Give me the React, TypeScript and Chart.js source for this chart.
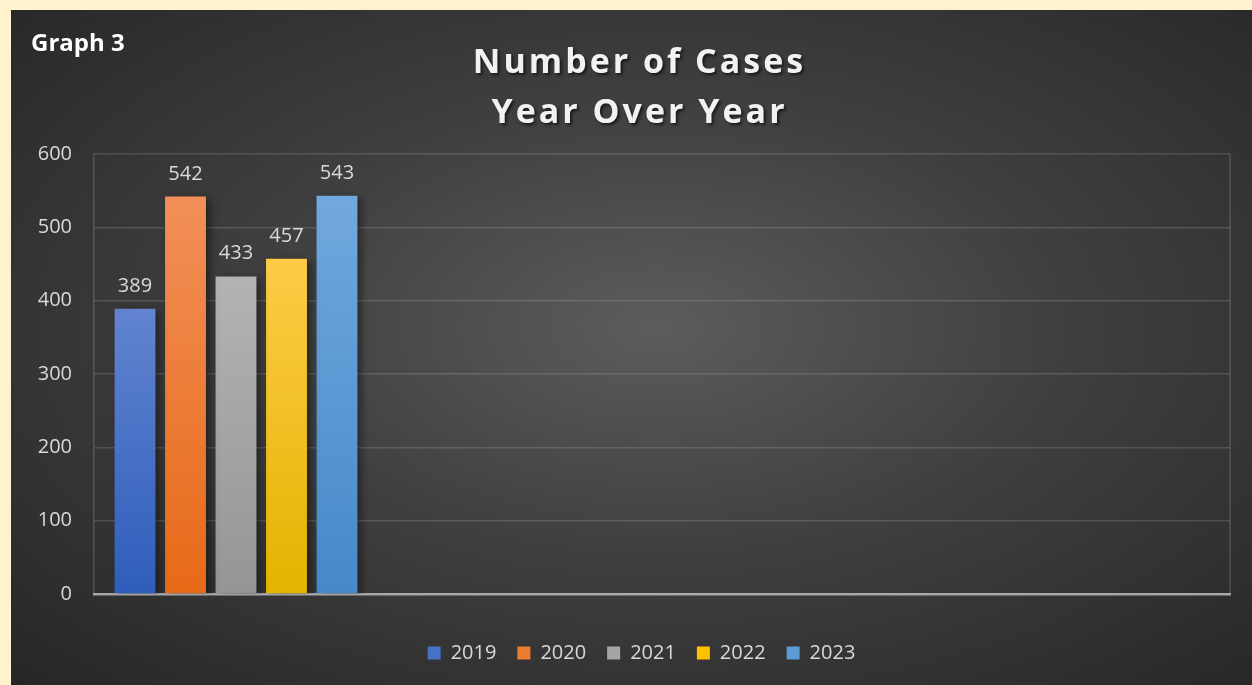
import React, { useEffect, useRef } from "react";
import { Chart, registerables } from "chart.js";

Chart.register(...registerables);

const categories = ["", "", "", ""];
const seriesNames = ["2019", "2020", "2021", "2022", "2023"];
const seriesValues = [389, 542, 433, 457, 543];
const topColors = ["#6284d0", "#f28f58", "#b3b3b3", "#ffcb47", "#71a8de"];
const bottomColors = ["#2e5dbb", "#e76a18", "#959595", "#e3b400", "#4689c9"];
const legendColors = ["#4472c4", "#ed7d31", "#a5a5a5", "#ffc000", "#5b9bd5"];
const yTicks = [0, 100, 200, 300, 400, 500, 600];

const FONT = "'Open Sans', sans-serif";
const TEXT = "#d9d9d9";

const labelPlugin = {
  id: "barLabels",
  afterLayout(chart: any) {
    if (chart.legend) {
      chart.legend.left += 21;
      chart.legend.right += 21;
    }
  },
  beforeDatasetsDraw(chart: any) {
    const ctx = chart.ctx;
    ctx.save();
    ctx.shadowColor = "rgba(0,0,0,0.45)";
    ctx.shadowBlur = 8;
    ctx.shadowOffsetX = 4;
    ctx.shadowOffsetY = 2;
  },
  afterDatasetsDraw(chart: any) {
    const ctx = chart.ctx;
    ctx.restore();
    ctx.save();
    ctx.fillStyle = TEXT;
    ctx.font = `20px ${FONT}`;
    ctx.textAlign = "center";
    ctx.textBaseline = "alphabetic";
    chart.data.datasets.forEach((ds: any, di: number) => {
      const meta = chart.getDatasetMeta(di);
      meta.data.forEach((el: any, i: number) => {
        const v = ds.data[i];
        if (v == null) return;
        ctx.fillText(String(v), el.x, el.y - 17);
      });
    });
    ctx.restore();
  },
  afterDraw(chart: any) {
    const { ctx, chartArea } = chart;
    ctx.save();
    ctx.strokeStyle = "rgba(255,255,255,0.16)";
    ctx.lineWidth = 1.5;
    ctx.beginPath();
    ctx.moveTo(chartArea.right, chartArea.top);
    ctx.lineTo(chartArea.right, chartArea.bottom);
    ctx.stroke();
    ctx.restore();
  },
};

export default function App() {
  const ref = useRef<HTMLCanvasElement | null>(null);

  useEffect(() => {
    if (!ref.current) return;
    const datasets = seriesNames.map((name, i) => ({
      label: name,
      data: categories.map((_, ci) => (ci === 0 ? seriesValues[i] : null)),
      backgroundColor: (c: any) => {
        const chart = c.chart;
        const area = chart.chartArea;
        const v = c.raw;
        if (!area || v == null || !chart.scales.y) return legendColors[i];
        const top = chart.scales.y.getPixelForValue(v);
        const g = chart.ctx.createLinearGradient(0, top, 0, area.bottom);
        g.addColorStop(0, topColors[i]);
        g.addColorStop(1, bottomColors[i]);
        return g;
      },
      borderWidth: 0,
      categoryPercentage: 0.889,
      barPercentage: 0.81,
    }));

    const chart = new Chart(ref.current, {
      type: "bar",
      data: { labels: categories, datasets },
      plugins: [labelPlugin],
      options: {
        animation: false,
        responsive: false,
        maintainAspectRatio: false,
        layout: { padding: { top: 144, right: 22, left: 0, bottom: 12 } },
        plugins: {
          title: { display: false },
          tooltip: { enabled: false },
          legend: {
            position: "bottom",
            labels: {
              boxWidth: 13,
              boxHeight: 13,
              padding: 21,
              color: TEXT,
              font: { size: 20, family: FONT },
              generateLabels: (ch: any) =>
                ch.data.datasets.map((d: any, i: number) => ({
                  text: d.label,
                  fillStyle: legendColors[i],
                  strokeStyle: legendColors[i],
                  lineWidth: 0,
                  hidden: false,
                  datasetIndex: i,
                  fontColor: TEXT,
                })),
            },
          },
        },
        scales: {
          x: {
            z: 1,
            ticks: { display: false },
            grid: { display: false, drawTicks: false },
            border: { display: true, color: "rgba(200,200,200,0.75)", width: 2.5 },
            afterFit: (s: any) => {
              s.height = 28;
            },
          },
          y: {
            min: 0,
            max: 600,
            afterBuildTicks: (s: any) => {
              s.ticks = yTicks.map((v) => ({ value: v }));
            },
            ticks: {
              color: TEXT,
              font: { size: 20, family: FONT },
              padding: 22,
            },
            grid: {
              color: "rgba(255,255,255,0.14)",
              lineWidth: 1.5,
              drawTicks: false,
            },
            border: { display: true, color: "rgba(255,255,255,0.16)", width: 1.5 },
            afterFit: (s: any) => {
              s.width = 83;
            },
          },
        },
      },
    });
    return () => chart.destroy();
  }, []);

  return (
    <div
      style={{
        position: "fixed",
        left: 0,
        top: 0,
        width: 1252,
        height: 685,
        background: "#fff2cc",
        overflow: "hidden",
      }}
    >
      <div
        style={{
          position: "absolute",
          left: 11,
          top: 10,
          width: 1241,
          height: 675,
          background:
            "radial-gradient(ellipse farthest-corner at 52% 47%, #5c5c5c 0%, #3f3f3f 45%, #262626 100%)",
        }}
      >
        <canvas ref={ref} width={1241} height={675} style={{ position: "absolute", left: 0, top: 0 }} />
        <div
          style={{
            position: "absolute",
            left: 20,
            top: 16,
            color: "#ffffff",
            fontFamily: FONT,
            fontWeight: 700,
            fontSize: 24,
            lineHeight: "32px",
          }}
        >
          Graph 3
        </div>
        <div
          style={{
            position: "absolute",
            left: 8,
            width: 1241,
            top: 25,
            textAlign: "center",
            color: "#f2f2f2",
            fontFamily: FONT,
            fontWeight: 700,
            fontSize: 34,
            lineHeight: "50px",
            letterSpacing: 3,
            textShadow: "2px 2px 3px rgba(0,0,0,0.6)",
          }}
        >
          Number of Cases
          <br />
          Year Over Year
        </div>
      </div>
    </div>
  );
}
